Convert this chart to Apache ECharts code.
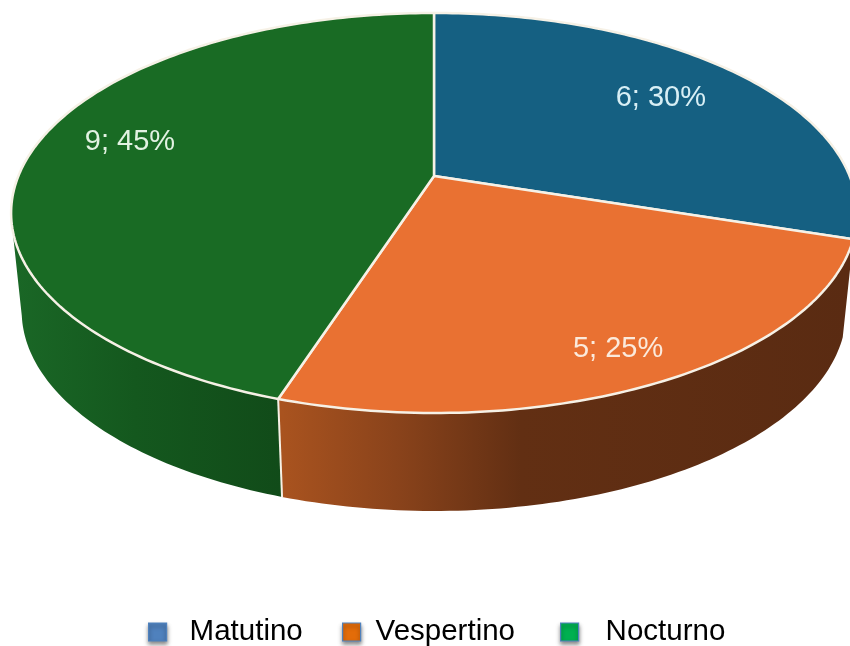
<!DOCTYPE html>
<html>
<head>
<meta charset="utf-8">
<style>html,body{margin:0;padding:0;background:#fff}#c{width:850px;height:646px}</style>
<script src="https://cdn.jsdelivr.net/npm/echarts@6/dist/echarts.min.js"></script>
</head>
<body>
<div id="c"></div>
<script>
// Data
const categories = ['Matutino', 'Vespertino', 'Nocturno'];
const values = [6, 5, 9];

// Styles
const topColors = ['#156082', '#E97132', '#196B24'];
const labelColors = ['#d8eff5', '#fbeadc', '#e2f2e2'];
const legendColors = ['#4F81BD', '#E36C09', '#00B050'];
const wallStops = [
  [[0, '#0c3a4e'], [1, '#0c3a4e']],
  [[0, '#a9531f'], [0.2, '#8a431b'], [0.42, '#622f13'], [1, '#5a2b12']],
  [[0, '#1a6726'], [0.45, '#14581e'], [1, '#114b19']]
];
const wallGradientX = [[600, 850], [282, 850], [15, 282]];

// Perspective of the disc
const apex = { x: 434, y: 176 };
const H = { k: 415.6, a: -160.6, c: 0.185 };
const depth = 98, bottomScale = 0.975;
const frontRange = [108, 258];
const labelRadius = [0.742, 0.85, 0.782];
const labelAngleShift = [-1.2, 0.4, 5.3];
const labelDrop = 2;

function project(deg, r, drop, scale) {
  const t = deg * Math.PI / 180, u = Math.sin(t) * r, v = Math.cos(t) * r;
  const d = 1 + H.c * v;
  return [apex.x + scale * H.k * u / d, (H.a * v + apex.y) / d + drop];
}
const total = values.reduce((s, v) => s + v, 0);
function sliceRange(i) {
  let before = 0;
  for (let j = 0; j < i; j++) before += values[j];
  return [before / total * 360, (before + values[i]) / total * 360];
}
function arc(from, to, drop, scale) {
  const pts = [], n = Math.max(2, Math.ceil(Math.abs(to - from)));
  for (let s = 0; s <= n; s++) pts.push(project(from + (to - from) * s / n, 1, drop, scale));
  return pts;
}

function renderSlice(params, api) {
  const i = params.seriesIndex, value = api.value(0);
  const [a0, a1] = sliceRange(i);
  const children = [];
  const w0 = Math.max(a0, frontRange[0]), w1 = Math.min(a1, frontRange[1]);
  if (w1 > w0) {
    children.push({
      type: 'polygon', z2: 1,
      shape: { points: arc(w0, w1, 0, 1).concat(arc(w1, w0, depth, bottomScale)) },
      style: {
        fill: {
          type: 'linear', global: true,
          x: wallGradientX[i][0], y: 0, x2: wallGradientX[i][1], y2: 0,
          colorStops: wallStops[i].map(s => ({ offset: s[0], color: s[1] }))
        }
      }
    });
    if (a1 < frontRange[1]) {
      children.push({
        type: 'polyline', z2: 2,
        shape: { points: [project(a1, 1, 0, 1), project(a1, 1, depth, bottomScale)] },
        style: { fill: null, stroke: '#f6f1e6', lineWidth: 2 }
      });
    }
  }
  children.push({
    type: 'polygon', z2: 3,
    shape: { points: [[apex.x, apex.y]].concat(arc(a0, a1, 0, 1)) },
    style: { fill: topColors[i], stroke: '#f6f1e6', lineWidth: 2.5, lineJoin: 'round' }
  });
  const lp = project((a0 + a1) / 2 + labelAngleShift[i], labelRadius[i], labelDrop, 1);
  children.push({
    type: 'text', z2: 4,
    style: {
      text: value + '; ' + Math.round(value / total * 100) + '%',
      x: lp[0], y: lp[1], align: 'center', verticalAlign: 'middle',
      fill: labelColors[i], font: '29px "Liberation Sans", Arial, sans-serif'
    }
  });
  return { type: 'group', children };
}

const legendLeft = [148, 342, 560];
const legendTop = 617;
const legendGap = [23, 15, 27];

const chart = echarts.init(document.getElementById('c'), null, { renderer: 'canvas' });
chart.setOption({
  backgroundColor: '#fff',
  animation: false,
  legend: categories.map((name, i) => ({
    left: legendLeft[i], top: legendTop, padding: 0,
    itemWidth: 18, itemHeight: 18, selectedMode: false,
    data: [{
      name, icon: 'rect',
      itemStyle: {
        color: legendColors[i], borderColor: '#4F81BD', borderWidth: 1.2,
        shadowColor: 'rgba(0,0,0,0.45)', shadowBlur: 4, shadowOffsetY: 3
      }
    }],
    textStyle: {
      color: '#000', fontSize: 29.5, fontFamily: '"Liberation Sans", Arial, sans-serif',
      padding: [0, 0, 0, legendGap[i] - 5]
    }
  })),
  series: categories.map((name, i) => ({
    type: 'custom', name, coordinateSystem: 'none',
    itemStyle: { color: legendColors[i] },
    renderItem: renderSlice,
    silent: true,
    data: [[values[i]]]
  }))
});
</script>
</body>
</html>
